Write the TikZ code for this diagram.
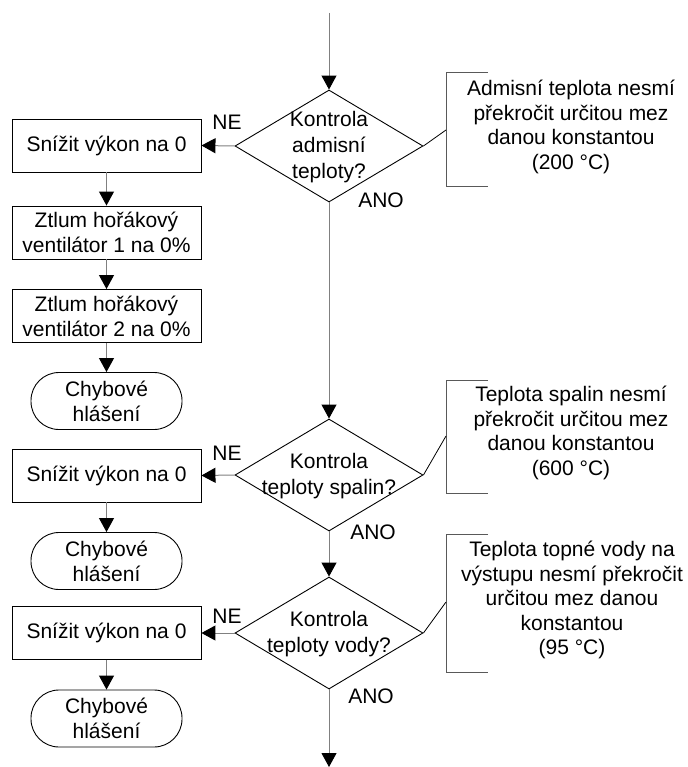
\documentclass[tikz,border=0pt]{standalone}
\usepackage{fontspec}
\setmainfont{Liberation Sans}
\usetikzlibrary{shapes.geometric,arrows.meta}
\begin{document}
\begin{tikzpicture}[x=1pt,y=-1pt,
  every node/.style={font=\fontsize{21}{25}\selectfont, inner sep=0pt},
  procbox/.style={draw=black, line width=0.9pt, minimum width=189pt, minimum height=53pt, align=center},
  termbox/.style={draw=black, line width=0.9pt, rounded corners=28pt, minimum width=151pt, minimum height=57pt, align=center},
  decision/.style={diamond, draw=black, line width=0.9pt, minimum width=188pt, minimum height=112pt},
  dectext/.style={align=center, font=\fontsize{21}{26}\selectfont},
  flow/.style={draw=gray, line width=1pt, -{Triangle[length=14pt,width=15pt,color=black]}},
  notebracket/.style={draw=gray!70!black, line width=1pt},
  notelink/.style={draw=black, line width=0.8pt},
  notetext/.style={align=center, font=\fontsize{21}{24.5}\selectfont},
]
\useasboundingbox (0,0) rectangle (687,767);

% main decision column
\node[decision] (d1) at (329,146) {};
\node[dectext] (d1t) at (329,147) {Kontrola\\admisní\\teploty?};
\node[decision] (d2) at (329,475) {};
\node[dectext] (d2t) at (329,476) {Kontrola\\teploty spalin?};
\node[decision] (d3) at (329,633) {};
\node[dectext] (d3t) at (329,634) {Kontrola\\teploty vody?};

\coordinate (start) at (329,13);
\coordinate (finish) at (329,767);

% left column: reactions to a failed check
\node[procbox] (b1) at (106.5,145.5) {Snížit výkon na 0};
\node[procbox] (f1) at (106.5,232.5) {Ztlum hořákový\\ventilátor 1 na 0\%};
\node[procbox] (f2) at (106.5,316) {Ztlum hořákový\\ventilátor 2 na 0\%};
\node[termbox] (e1) at (106.5,401) {Chybové\\hlášení};
\node[procbox] (b2) at (106.5,475.5) {Snížit výkon na 0};
\node[termbox] (e2) at (106.5,561) {Chybové\\hlášení};
\node[procbox] (b3) at (106.5,633) {Snížit výkon na 0};
\node[termbox] (e3) at (106.5,718.5) {Chybové\\hlášení};

% branch labels
\node (ne1) at (227,122) {NE};
\node (ne2) at (227,453) {NE};
\node (ne3) at (227,616) {NE};
\node (ano1) at (381,200) {ANO};
\node (ano2) at (373,532) {ANO};
\node (ano3) at (371,696) {ANO};

% connectors
\draw[flow] (start) -- (d1.north);
\draw[flow] (d1.south) -- (d2.north);
\draw[flow] (d2.south) -- (d3.north);
\draw[flow] (d3.south) -- (finish);
\draw[flow] (d1.west) -- (b1.east);
\draw[flow] (d2.west) -- (b2.east);
\draw[flow] (d3.west) -- (b3.east);
\draw[flow] (b1) -- (f1);
\draw[flow] (f1) -- (f2);
\draw[flow] (f2) -- (e1);
\draw[flow] (b2) -- (e2);
\draw[flow] (b3) -- (e3);

% annotations
\coordinate (n1a) at (488,73);  \coordinate (n1b) at (446,73);
\coordinate (n1c) at (446,187); \coordinate (n1d) at (488,187);
\coordinate (n1j) at (446,130);
\draw[notebracket] (n1a) -- (n1b) -- (n1c) -- (n1d);
\draw[notelink] (d1.east) -- (n1j);
\node[notetext] (n1) at (571,127) {Admisní teplota nesmí\\překročit určitou mez\\danou konstantou\\(200 °C)};

\coordinate (n2a) at (488,380); \coordinate (n2b) at (446,380);
\coordinate (n2c) at (446,493); \coordinate (n2d) at (488,493);
\coordinate (n2j) at (446,436);
\draw[notebracket] (n2a) -- (n2b) -- (n2c) -- (n2d);
\draw[notelink] (d2.east) -- (n2j);
\node[notetext] (n2) at (571,433) {Teplota spalin nesmí\\překročit určitou mez\\danou konstantou\\(600 °C)};

\coordinate (n3a) at (488,534); \coordinate (n3b) at (446,534);
\coordinate (n3c) at (446,672); \coordinate (n3d) at (488,672);
\coordinate (n3j) at (446,602);
\draw[notebracket] (n3a) -- (n3b) -- (n3c) -- (n3d);
\draw[notelink] (d3.east) -- (n3j);
\node[notetext] (n3) at (572,600) {Teplota topné vody na\\výstupu nesmí překročit\\určitou mez danou\\konstantou\\(95 °C)};
\end{tikzpicture}
\end{document}
